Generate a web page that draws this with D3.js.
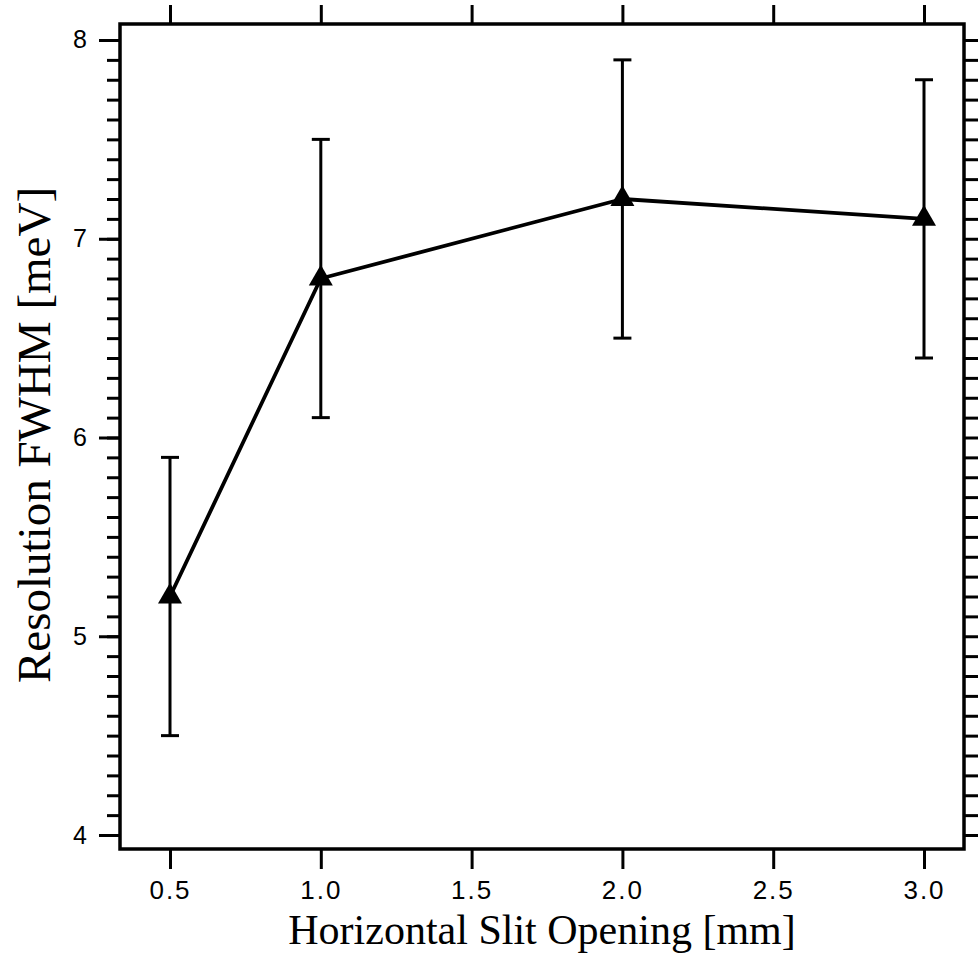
<!DOCTYPE html>
<html>
<head>
<meta charset="utf-8">
<script src="https://cdn.jsdelivr.net/npm/d3@7"></script>
<style>
  html, body { margin: 0; padding: 0; background: #fff; }
  svg { display: block; }
</style>
</head>
<body>
<svg id="chart" width="979" height="955"></svg>
<script>
// ---- data ----
const slitOpening = [0.5, 1.0, 2.0, 3.0];          // mm
const resolution  = [5.2, 6.8, 7.2, 7.1];          // meV
const errLow      = [4.5, 6.1, 6.5, 6.4];
const errHigh     = [5.9, 7.5, 7.9, 7.8];
const xTickValues = [0.5, 1.0, 1.5, 2.0, 2.5, 3.0];
const xTickLabels = ["0.5", "1.0", "1.5", "2.0", "2.5", "3.0"];
const yTickValues = [4, 5, 6, 7, 8];
const yTickLabels = ["4", "5", "6", "7", "8"];
const xTitle = "Horizontal Slit Opening [mm]";
const yTitle = "Resolution FWHM [meV]";

// ---- layout ----
const svg = d3.select("#chart");
const L = 120, R = 964, T = 24, B = 849;

const x = d3.scaleLinear().domain([0.3342, 3.1326]).range([L, R]);
const y = d3.scaleLinear().domain([3.9296, 8.0805]).range([B, T]);

const minorY = d3.range(40, 81).map(d => d / 10);

const ink = "#000";
const sans = "'Liberation Sans', Arial, Helvetica, sans-serif";
const serif = "'Liberation Serif', 'Times New Roman', serif";

// bottom axis
const xBottom = d3.axisBottom(x).tickValues(xTickValues)
  .tickFormat((d, i) => xTickLabels[i]).tickSize(20).tickSizeOuter(0).tickPadding(12);
const gB = svg.append("g").attr("transform", `translate(0,${B})`).call(xBottom);
gB.select(".domain").remove();
gB.selectAll(".tick line").attr("stroke", ink).attr("stroke-width", 3);
gB.selectAll(".tick text").attr("font-family", sans).attr("font-size", 26)
  .attr("letter-spacing", "2px").attr("fill", ink);

// top axis
const xTop = d3.axisTop(x).tickValues(xTickValues).tickFormat("").tickSize(19).tickSizeOuter(0);
const gT = svg.append("g").attr("transform", `translate(0,${T})`).call(xTop);
gT.select(".domain").remove();
gT.selectAll(".tick line").attr("stroke", ink).attr("stroke-width", 3);

// left axis: minor ticks
const yLeftMinor = d3.axisLeft(y).tickValues(minorY).tickFormat("").tickSize(13).tickSizeOuter(0);
const gLm = svg.append("g").attr("transform", `translate(${L},0)`).call(yLeftMinor);
gLm.select(".domain").remove();
gLm.selectAll(".tick line").attr("stroke", ink).attr("stroke-width", 3);

// left axis: major ticks + labels
const yLeft = d3.axisLeft(y).tickValues(yTickValues)
  .tickFormat((d, i) => yTickLabels[i]).tickSize(21).tickSizeOuter(0).tickPadding(12);
const gL = svg.append("g").attr("transform", `translate(${L},0)`).call(yLeft);
gL.select(".domain").remove();
gL.selectAll(".tick line").attr("stroke", ink).attr("stroke-width", 3);
gL.selectAll(".tick text").attr("font-family", sans).attr("font-size", 25).attr("fill", ink);

// right axis: outward ticks every 0.1
const yRight = d3.axisRight(y).tickValues(minorY).tickFormat("").tickSize(14).tickSizeOuter(0);
const gR = svg.append("g").attr("transform", `translate(${R},0)`).call(yRight);
gR.select(".domain").remove();
gR.selectAll(".tick line").attr("stroke", ink).attr("stroke-width", 3);

// frame
svg.append("rect").attr("x", L).attr("y", T).attr("width", R - L).attr("height", B - T)
  .attr("fill", "none").attr("stroke", ink).attr("stroke-width", 3.5);

// data
const pts = slitOpening.map((d, i) => ({x: d, y: resolution[i], lo: errLow[i], hi: errHigh[i]}));

// error bars
const eb = svg.append("g").attr("stroke", ink).attr("stroke-width", 3);
pts.forEach(p => {
  eb.append("line").attr("x1", x(p.x)).attr("x2", x(p.x)).attr("y1", y(p.lo)).attr("y2", y(p.hi));
  eb.append("line").attr("x1", x(p.x) - 9).attr("x2", x(p.x) + 9).attr("y1", y(p.lo)).attr("y2", y(p.lo));
  eb.append("line").attr("x1", x(p.x) - 9).attr("x2", x(p.x) + 9).attr("y1", y(p.hi)).attr("y2", y(p.hi));
});

// connecting line
svg.append("path").datum(pts)
  .attr("d", d3.line().x(d => x(d.x)).y(d => y(d.y)))
  .attr("fill", "none").attr("stroke", ink).attr("stroke-width", 3.8).attr("stroke-linejoin", "round");

// triangle markers
const tri = d3.symbol().type(d3.symbolTriangle).size(250);
svg.append("g").selectAll("path").data(pts).join("path")
  .attr("d", tri).attr("transform", d => `translate(${x(d.x)},${y(d.y)})`)
  .attr("fill", ink);

// titles
svg.append("text").attr("x", (L + R) / 2).attr("y", 944)
  .attr("text-anchor", "middle").attr("font-family", serif).attr("font-size", 42)
  .attr("fill", ink).text(xTitle);

svg.append("text").attr("transform", `translate(50,435) rotate(-90)`)
  .attr("text-anchor", "middle").attr("font-family", serif).attr("font-size", 47)
  .attr("fill", ink).text(yTitle);
</script>
</body>
</html>
